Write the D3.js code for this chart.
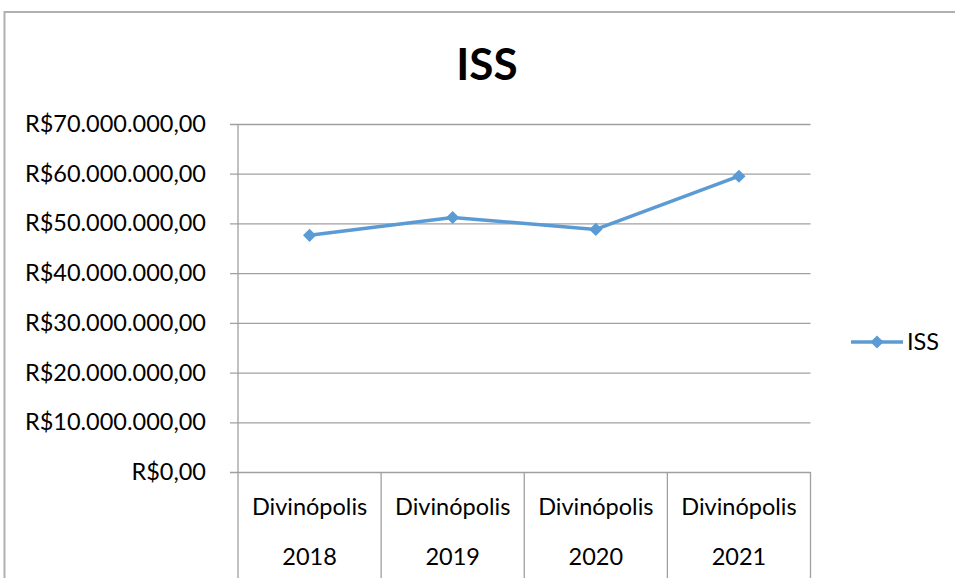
<!DOCTYPE html>
<html>
<head>
<meta charset="utf-8">
<script src="https://cdn.jsdelivr.net/npm/d3@7"></script>
<style>
  html, body { margin: 0; padding: 0; background: #fff; }
  svg { display: block; }
  text { font-family: Lato, "Open Sans", sans-serif; fill: #000; }
</style>
</head>
<body>
<svg id="chart" width="955" height="578"></svg>
<script>
// ISS revenue for Divinópolis, by year
const categories = ["Divinópolis 2018", "Divinópolis 2019", "Divinópolis 2020", "Divinópolis 2021"];
const issValues = [47600000, 51200000, 48800000, 59500000];
const yTicks = [0, 10000000, 20000000, 30000000, 40000000, 50000000, 60000000, 70000000];
const seriesName = "ISS";
const chartTitle = "ISS";

const svg = d3.select("#chart");
const W = 955, H = 578;
const plot = { left: 238, right: 810.5, top: 124, bottom: 472 };
const gridColor = "#a0a0a0";
const lineColor = "#5b9bd5";
const labelSize = 23.5;

// outer chart frame (runs past the right and bottom edges)
svg.append("rect")
  .attr("x", 4.5).attr("y", 12)
  .attr("width", W + 20).attr("height", H + 20)
  .attr("fill", "#fff")
  .attr("stroke", "#b0b0b0").attr("stroke-width", 2);

const x = d3.scaleBand().domain(categories).range([plot.left, plot.right]).padding(0);
const y = d3.scaleLinear().domain([0, 70000000]).range([plot.bottom, plot.top]);

// Brazilian currency format: R$70.000.000,00
const brl = d3.formatLocale({ decimal: ",", thousands: ".", grouping: [3], currency: ["R$", ""] });
const fmt = brl.format("$,.2f");

// horizontal gridlines + y axis labels
const yAxis = d3.axisLeft(y).tickValues(yTicks).tickFormat(fmt)
  .tickSize(-(plot.right - plot.left)).tickPadding(32);
const gy = svg.append("g").attr("transform", `translate(${plot.left},0)`).call(yAxis);
gy.select(".domain").remove();
gy.selectAll(".tick line").attr("stroke", gridColor).attr("stroke-width", 1.3).attr("x1", -8);
gy.selectAll(".tick text").attr("font-size", labelSize).attr("font-family", "Lato, sans-serif").attr("fill", "#000");

// vertical axis line extends down through category area
svg.append("line")
  .attr("x1", plot.left).attr("x2", plot.left)
  .attr("y1", plot.top).attr("y2", H)
  .attr("stroke", gridColor).attr("stroke-width", 1.3);

// category dividers and two-line labels
const gx = svg.append("g");
categories.forEach(c => {
  const x1 = x(c) + x.bandwidth();
  gx.append("line")
    .attr("x1", x1).attr("x2", x1)
    .attr("y1", plot.bottom).attr("y2", H)
    .attr("stroke", gridColor).attr("stroke-width", 1.3);
  const parts = c.split(" ");
  const cx = x(c) + x.bandwidth() / 2;
  gx.append("text").attr("x", cx).attr("y", 515).attr("text-anchor", "middle")
    .attr("font-size", labelSize).text(parts[0]);
  gx.append("text").attr("x", cx).attr("y", 565).attr("text-anchor", "middle")
    .attr("font-size", labelSize).text(parts[1]);
});

// series line
const line = d3.line().x((d, i) => x(categories[i]) + x.bandwidth() / 2).y(d => y(d));
svg.append("path").datum(issValues)
  .attr("d", line).attr("fill", "none")
  .attr("stroke", lineColor).attr("stroke-width", 3.5).attr("stroke-linejoin", "round");

const diamond = d3.symbol().type(d3.symbolDiamond2).size(110);
svg.selectAll(".pt").data(issValues).enter().append("path")
  .attr("class", "pt")
  .attr("transform", (d, i) => `translate(${x(categories[i]) + x.bandwidth() / 2},${y(d)})`)
  .attr("d", diamond).attr("fill", lineColor);

// title
svg.append("text").attr("x", 487).attr("y", 80).attr("text-anchor", "middle")
  .attr("font-size", 44).attr("font-weight", "bold").text(chartTitle);

// legend
const ly = 342;
svg.append("line").attr("x1", 851).attr("x2", 903).attr("y1", ly).attr("y2", ly)
  .attr("stroke", lineColor).attr("stroke-width", 3.5);
svg.append("path").attr("transform", `translate(877,${ly})`).attr("d", diamond).attr("fill", lineColor);
svg.append("text").attr("x", 907).attr("y", ly + 8).attr("font-size", labelSize).text(seriesName);
</script>
</body>
</html>
